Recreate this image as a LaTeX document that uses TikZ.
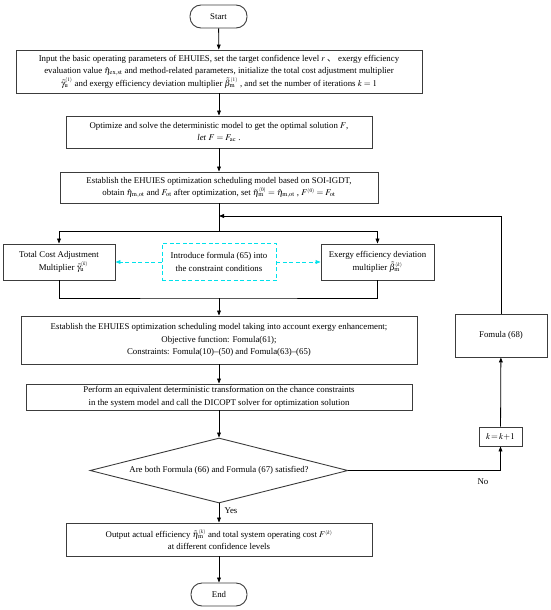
\documentclass[tikz,border=0pt]{standalone}
\usepackage{mathptmx}
\usepackage{fontspec}
\setmainfont{Liberation Serif}
\newfontfamily\cjk{Noto Sans CJK SC}
\usetikzlibrary{arrows.meta,shapes.geometric,calc}
\definecolor{boxgray}{RGB}{60,60,60}
\definecolor{cyanline}{RGB}{0,225,235}
\newcommand{\sps}[1]{^{\scriptscriptstyle(#1)}}
\begin{document}
\begin{tikzpicture}[x=1pt,y=-1pt,
  every node/.style={font=\fontsize{8.8}{12.5}\selectfont},
  box/.style={draw=boxgray,line width=0.9pt,rectangle,inner sep=0pt,align=center},
  term/.style={box,rounded corners=11pt},
  dbox/.style={draw=cyanline,line width=0.9pt,dash pattern=on 4pt off 2.5pt,rectangle,inner sep=0pt,align=center},
  decision/.style={draw=boxgray,line width=0.9pt,diamond,aspect=3.97,inner sep=0pt,align=center},
  arr/.style={line width=0.8pt,-{Triangle[length=5pt,width=3.8pt]}},
  ln/.style={line width=0.8pt},
  carr/.style={draw=cyanline,line width=0.9pt,dash pattern=on 4pt off 2.5pt,-{Triangle[length=5pt,width=3.8pt]},color=cyanline},
  lbl/.style={inner sep=0pt}
]
\useasboundingbox (0,0) rectangle (550,610);

\node[term,minimum width=57pt,minimum height=23pt] (start) at (218.5,16.5) {Start};

\node[box,minimum width=406pt,minimum height=43pt] (input) at (219,71.5)
 {Input the basic operating parameters of EHUIES, set the target confidence level $r$ {\cjk 、} exergy efficiency\\
  evaluation value $\hat{\eta}_{\mathrm{ex,st}}$ and method-related parameters, initialize the total cost adjustment multiplier\\
  $\tilde{\gamma}_{\mathrm{u}}\sps{1}$ and exergy efficiency deviation multiplier $\tilde{\beta}_{\mathrm{m}}\sps{1}$ ,\ and set the number of iterations\ $k=1$};

\node[box,minimum width=306pt,minimum height=32pt] (opt) at (219,132)
 {Optimize and solve the deterministic model to get the optimal solution\ $F$,\\
  \textit{let} $F=F_{\mathrm{ac}}$ .};

\node[box,minimum width=318pt,minimum height=31pt] (est) at (219,187.5)
 {Establish the EHUIES optimization scheduling model based on SOI-IGDT,\\
  obtain $\hat{\eta}_{\mathrm{m,ot}}$ and $F_{\mathrm{ot}}$\ after optimization, set\ $\tilde{\eta}_{\mathrm{m}}\sps{0}=\hat{\eta}_{\mathrm{m,ot}}$\ ,\ $F\sps{0}=F_{\mathrm{ot}}$};

\node[box,minimum width=112pt,minimum height=36pt] (total) at (59,262)
 {Total Cost Adjustment\\ \quad Multiplier\ $\tilde{\gamma}_{\mathrm{u}}\sps{k}$};
\node[dbox,minimum width=114pt,minimum height=37pt] (intro) at (219,262)
 {Introduce formula (65) into\\ the constraint conditions};
\node[box,minimum width=113pt,minimum height=36pt] (exergy) at (377.5,262)
 {Exergy efficiency deviation\\ multiplier\ $\tilde{\beta}_{\mathrm{m}}\sps{k}$};

\node[box,minimum width=396pt,minimum height=48pt] (estex) at (219,340)
 {Establish the EHUIES optimization scheduling model taking into account exergy enhancement;\\
  Objective function: Fomula(61);\\
  Constraints: Fomula(10)--(50) and Fomula(63)--(65)};

\node[box,minimum width=386pt,minimum height=26pt] (perform) at (219,397)
 {Perform an equivalent deterministic transformation on the chance constraints\\
  in the system model and call the DICOPT solver for optimization solution};

\node[decision,minimum width=258pt,minimum height=65pt] (dia) at (219,470.5)
 {Are both Formula (66) and Formula (67) satisfied?};

\node[box,minimum width=306pt,minimum height=33pt] (output) at (219,539.5)
 {Output actual efficiency\ $\tilde{\eta}_{\mathrm{m}}\sps{k}$\ and total system operating cost\ $F\sps{k}$\\
  at different confidence levels};

\node[term,minimum width=56pt,minimum height=23pt] (end) at (219,594.5) {End};

\node[box,minimum width=92pt,minimum height=43pt] (formula) at (501,335.5) {Fomula (68)};
\node[box,minimum width=43pt,minimum height=19pt] (kbox) at (500.5,436.5) {$k\!=\!k\!+\!1$};

\node[lbl] (no) at (483,482) {No};
\node[lbl] (yes) at (231,511) {Yes};

\coordinate (fb) at (219,216);
\coordinate (sp) at (219,231);
\coordinate (mg) at (219,298);

\draw[arr] (start) -- (input);
\draw[arr] (input) -- (opt);
\draw[arr] (opt) -- (est);
\draw[ln] (est.south) -- (sp);
\draw[ln] (total.north |- sp) -- (exergy.north |- sp);
\draw[arr] (total.north |- sp) -- (total.north);
\draw[arr] (exergy.north |- sp) -- (exergy.north);
\draw[arr] (formula.north) |- (fb);
\draw[carr] (intro.west) -- (total.east);
\draw[carr] (intro.east) -- (exergy.west);
\draw[ln] (total.south) |- (mg) -| (exergy.south);
\draw[arr] (mg) -- (estex.north);
\draw[arr] (estex) -- (perform);
\draw[arr] (perform) -- (dia);
\draw[arr] (dia.south) -- (output);
\draw[arr] (output) -- (end);
\draw[arr] (dia.east) -| (kbox.south);
\draw[arr] (kbox) -- (formula);
\end{tikzpicture}
\end{document}
